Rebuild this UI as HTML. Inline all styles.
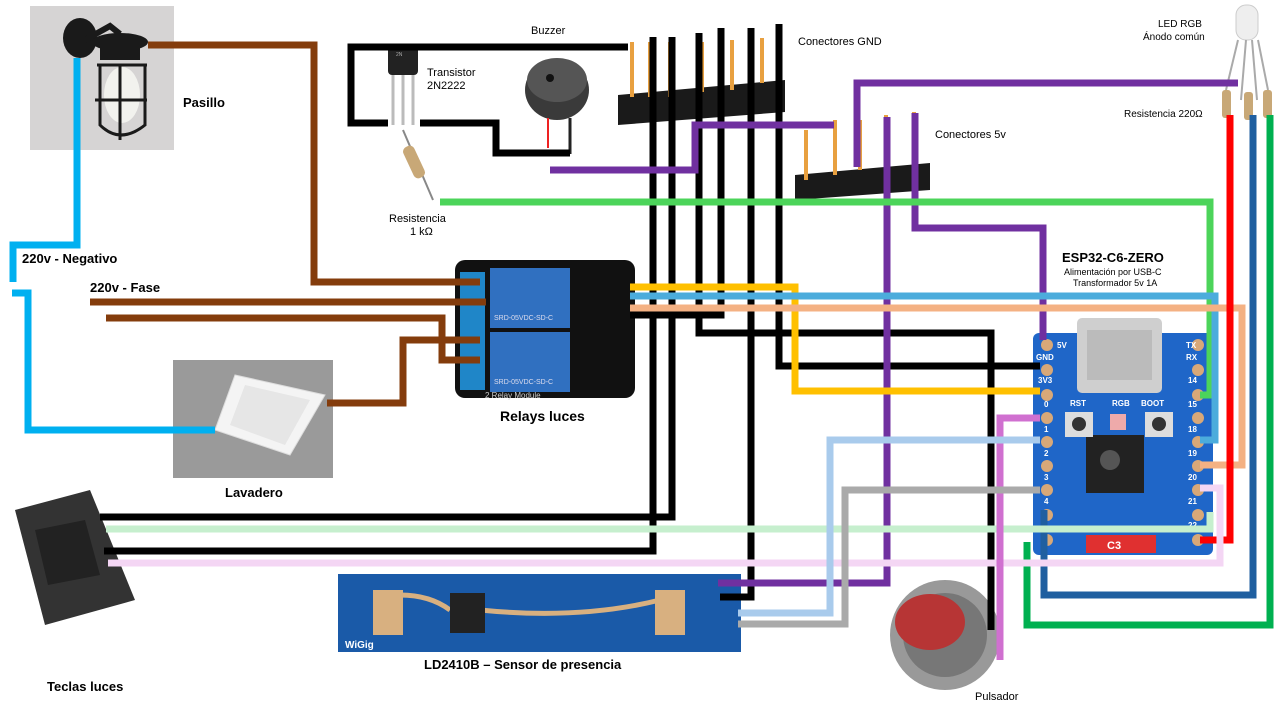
<!DOCTYPE html>
<html><head><meta charset="utf-8"><style>
html,body{margin:0;padding:0;background:#fff;}
svg{display:block;font-family:"Liberation Sans",sans-serif;}
</style></head><body>
<svg width="1280" height="720" viewBox="0 0 1280 720" xmlns="http://www.w3.org/2000/svg">
<rect width="1280" height="720" fill="#fff"/>
<!-- Pasillo lamp photo -->
<rect x="30" y="6" width="144" height="144" fill="#d6d4d4"/>
<ellipse cx="80" cy="38" rx="17" ry="20" fill="#1a1a1a"/>
<path d="M85 40 l25 -14 l10 8" stroke="#1a1a1a" stroke-width="6" fill="none"/>
<ellipse cx="120" cy="42" rx="28" ry="9" fill="#1a1a1a"/>
<rect x="100" y="45" width="40" height="15" fill="#1a1a1a"/>
<ellipse cx="122" cy="95" rx="18" ry="28" fill="#f2f2ee"/>
<path d="M97 65 h50 M95 100 h52 M100 65 v60 q20 20 45 0 v-60 M120 65 v75" stroke="#1a1a1a" stroke-width="3" fill="none"/>
<!-- Lavadero photo -->
<rect x="173" y="360" width="160" height="118" fill="#9a9a9a"/>
<polygon points="235,375 325,395 290,455 215,430" fill="#f4f4f4" stroke="#ddd"/>
<polygon points="245,385 310,400 285,445 230,425" fill="#e6e6e6"/>
<!-- Teclas -->
<polygon points="15,510 90,490 135,600 45,625" fill="#333"/>
<polygon points="35,530 85,520 100,575 48,585" fill="#222"/>
<!-- Transistor -->
<rect x="388" y="45" width="30" height="30" rx="4" fill="#222"/>
<text x="396" y="56" font-size="5" fill="#aaa">2N</text>
<path d="M393 75 v50 M403 75 v50 M413 75 v50" stroke="#bbb" stroke-width="3"/>
<!-- Resistor 1k -->
<path d="M403 130 l30 70" stroke="#888" stroke-width="2"/>
<rect x="408" y="145" width="12" height="34" rx="5" fill="#c8a877" transform="rotate(-25 414 162)"/>
<!-- Buzzer -->
<ellipse cx="557" cy="90" rx="32" ry="30" fill="#3a3a3a"/>
<ellipse cx="557" cy="80" rx="30" ry="22" fill="#555"/>
<circle cx="550" cy="78" r="4" fill="#111"/>
<path d="M548 118 v30" stroke="#e22" stroke-width="2"/><path d="M570 118 v36" stroke="#222" stroke-width="3"/>
<!-- GND header -->
<polygon points="618,95 785,80 785,112 618,125" fill="#1a1a1a"/>
<g fill="#e8a040"><rect x="630" y="42" width="4" height="55"/><rect x="648" y="42" width="4" height="55"/><rect x="668" y="42" width="4" height="55"/><rect x="700" y="42" width="4" height="50"/><rect x="730" y="40" width="4" height="50"/><rect x="760" y="38" width="4" height="45"/></g>
<!-- 5v header -->
<polygon points="795,175 930,163 930,190 795,200" fill="#1a1a1a"/>
<g fill="#e8a040"><rect x="804" y="130" width="4" height="50"/><rect x="833" y="120" width="4" height="55"/><rect x="858" y="120" width="4" height="50"/><rect x="884" y="115" width="4" height="50"/><rect x="912" y="112" width="4" height="50"/></g>
<!-- LED RGB -->
<rect x="1236" y="5" width="22" height="35" rx="10" fill="#eee" stroke="#ccc"/>
<path d="M1238 40 l-12 50 M1246 40 l-5 60 M1252 40 l5 60 M1258 40 l10 50" stroke="#aaa" stroke-width="2"/>
<g fill="#c8a877"><rect x="1222" y="90" width="9" height="28" rx="3"/><rect x="1244" y="92" width="9" height="28" rx="3"/><rect x="1263" y="90" width="9" height="28" rx="3"/></g>

<!-- Relay board -->
<rect x="455" y="260" width="180" height="138" rx="10" fill="#111"/>
<rect x="460" y="272" width="25" height="118" fill="#1f86c8"/>
<rect x="490" y="268" width="80" height="60" fill="#3070c0"/>
<rect x="490" y="332" width="80" height="60" fill="#3070c0"/>
<text x="494" y="320" font-size="7" fill="#dde">SRD-05VDC-SD-C</text>
<text x="494" y="384" font-size="7" fill="#dde">SRD-05VDC-SD-C</text>
<text x="485" y="398" font-size="8" fill="#ccc">2 Relay Module</text>
<!-- ESP32 board -->
<rect x="1033" y="333" width="180" height="222" rx="6" fill="#1f66c8"/>
<rect x="1077" y="318" width="85" height="75" rx="5" fill="#cfcfcf"/>
<rect x="1087" y="330" width="65" height="50" fill="#bbb"/>
<rect x="1086" y="435" width="58" height="58" fill="#222"/>
<circle cx="1110" cy="460" r="10" fill="#555"/>
<rect x="1065" y="412" width="28" height="25" fill="#ddd"/><circle cx="1079" cy="424" r="7" fill="#333"/>
<rect x="1145" y="412" width="28" height="25" fill="#ddd"/><circle cx="1159" cy="424" r="7" fill="#333"/>
<rect x="1110" y="414" width="16" height="16" fill="#eaa"/>
<rect x="1086" y="535" width="70" height="18" fill="#e03030"/>
<text x="1107" y="549" font-size="11" fill="#fff" font-weight="bold">C3</text>
<g fill="#d8a878"><circle cx="1047" cy="345" r="6"/><circle cx="1047" cy="370" r="6"/><circle cx="1047" cy="395" r="6"/><circle cx="1047" cy="418" r="6"/><circle cx="1047" cy="442" r="6"/><circle cx="1047" cy="466" r="6"/><circle cx="1047" cy="490" r="6"/><circle cx="1047" cy="515" r="6"/><circle cx="1047" cy="540" r="6"/>
<circle cx="1198" cy="345" r="6"/><circle cx="1198" cy="370" r="6"/><circle cx="1198" cy="395" r="6"/><circle cx="1198" cy="418" r="6"/><circle cx="1198" cy="442" r="6"/><circle cx="1198" cy="466" r="6"/><circle cx="1198" cy="490" r="6"/><circle cx="1198" cy="515" r="6"/><circle cx="1198" cy="540" r="6"/></g>
<g font-size="8" font-weight="bold" fill="#fff"><text x="1057" y="348">5V</text><text x="1036" y="360">GND</text><text x="1038" y="383">3V3</text><text x="1044" y="407">0</text><text x="1044" y="432">1</text><text x="1044" y="456">2</text><text x="1044" y="480">3</text><text x="1044" y="504">4</text>
<text x="1186" y="348">TX</text><text x="1186" y="360">RX</text><text x="1188" y="383">14</text><text x="1188" y="407">15</text><text x="1188" y="432">18</text><text x="1188" y="456">19</text><text x="1188" y="480">20</text><text x="1188" y="504">21</text><text x="1188" y="528">22</text>
<text x="1070" y="406">RST</text><text x="1112" y="406">RGB</text><text x="1141" y="406">BOOT</text></g>
<!-- LD2410B -->
<rect x="338" y="574" width="403" height="78" fill="#1a5aa8"/>
<rect x="373" y="590" width="30" height="45" fill="#d8b080"/>
<rect x="655" y="590" width="30" height="45" fill="#d8b080"/>
<path d="M400 595 q30 0 50 15 M480 610 q100 10 180 -10" stroke="#d8b080" stroke-width="5" fill="none"/>
<rect x="450" y="593" width="35" height="40" fill="#222"/>
<text x="345" y="648" font-size="10" fill="#fff" font-weight="bold">WiGig</text>
<!-- Pulsador -->
<circle cx="945" cy="635" r="55" fill="#999"/>
<circle cx="945" cy="635" r="42" fill="#777"/>
<ellipse cx="930" cy="622" rx="35" ry="28" fill="#b73535"/>

<!-- WIRES -->
<g fill="none" stroke-width="7" stroke-linejoin="miter">
<path d="M148 45 H314 V282 H480" stroke="#843c0c"/>
<path d="M90 302 H486" stroke="#843c0c"/>
<path d="M106 318 H442 V360 H480" stroke="#843c0c"/>
<path d="M327 403 H403 V340 H480" stroke="#843c0c"/>
<path d="M77 58 V245 H13 V282" stroke="#00b0f0"/>
<path d="M12 293 H28 V430 H215" stroke="#00b0f0"/>
<path d="M628 47 H351 V123 H388" stroke="#000"/>
<path d="M420 123 H496 V153 H570" stroke="#000"/>
<path d="M100 517 H672 V37" stroke="#000"/>
<path d="M104 551 H653 V37" stroke="#000"/>
<path d="M699 33 V333 H991 V630" stroke="#000"/>
<path d="M721 28 V315 H630" stroke="#000"/>
<path d="M751 28 V597 H720" stroke="#000"/>
<path d="M779 24 V366 H1040" stroke="#000"/>
<path d="M550 170 H695 V125 H834" stroke="#7030a0"/>
<path d="M857 167 V83 H1238" stroke="#7030a0"/>
<path d="M887 117 V583 H718" stroke="#7030a0"/>
<path d="M915 113 V228 H1043 V340" stroke="#7030a0"/>
<path d="M440 202 H1210 V395 H1200" stroke="#4cd45a"/>
<path d="M630 287 H795 V391 H1040" stroke="#ffc000"/>
<path d="M630 296 H1215 V440 H1200" stroke="#4bacdc"/>
<path d="M630 308 H1242 V465 H1200" stroke="#f4b183"/>
<path d="M1230 115 V540 H1200" stroke="#ff0000"/>
<path d="M1253 115 V595 H1044 V510" stroke="#1f5fa0"/>
<path d="M1270 115 V625 H1027 V542" stroke="#00b050"/>
<path d="M106 529 H1210 V512" stroke="#c6efce"/>
<path d="M108 563 H1220 V488 H1200" stroke="#f4d6f4"/>
<path d="M1000 660 V418 H1040" stroke="#d070d0"/>
<path d="M738 613 H830 V440 H1040" stroke="#a9cbec"/>
<path d="M738 624 H845 V490 H1040" stroke="#aaaaaa"/>
</g>

<g fill="#000" font-size="13" font-weight="bold">
<text x="183" y="107">Pasillo</text>
<text x="22" y="263">220v - Negativo</text>
<text x="90" y="292">220v - Fase</text>
<text x="500" y="421" font-size="14">Relays luces</text>
<text x="225" y="497">Lavadero</text>
<text x="47" y="691">Teclas luces</text>
<text x="424" y="669">LD2410B – Sensor de presencia</text>
<text x="1062" y="262">ESP32-C6-ZERO</text>
</g>
<g fill="#000" font-size="11">
<text x="531" y="34">Buzzer</text>
<text x="427" y="76">Transistor</text>
<text x="427" y="89">2N2222</text>
<text x="389" y="222">Resistencia</text>
<text x="410" y="235">1 kΩ</text>
<text x="798" y="45">Conectores GND</text>
<text x="935" y="138">Conectores 5v</text>
<text x="1158" y="27" font-size="10">LED RGB</text>
<text x="1143" y="40" font-size="10">Ánodo común</text>
<text x="1124" y="117" font-size="10">Resistencia 220Ω</text>
<text x="1064" y="275" font-size="9">Alimentación por USB-C</text>
<text x="1073" y="286" font-size="9">Transformador 5v 1A</text>
<text x="975" y="700">Pulsador</text>
</g>
</svg>
</body></html>
